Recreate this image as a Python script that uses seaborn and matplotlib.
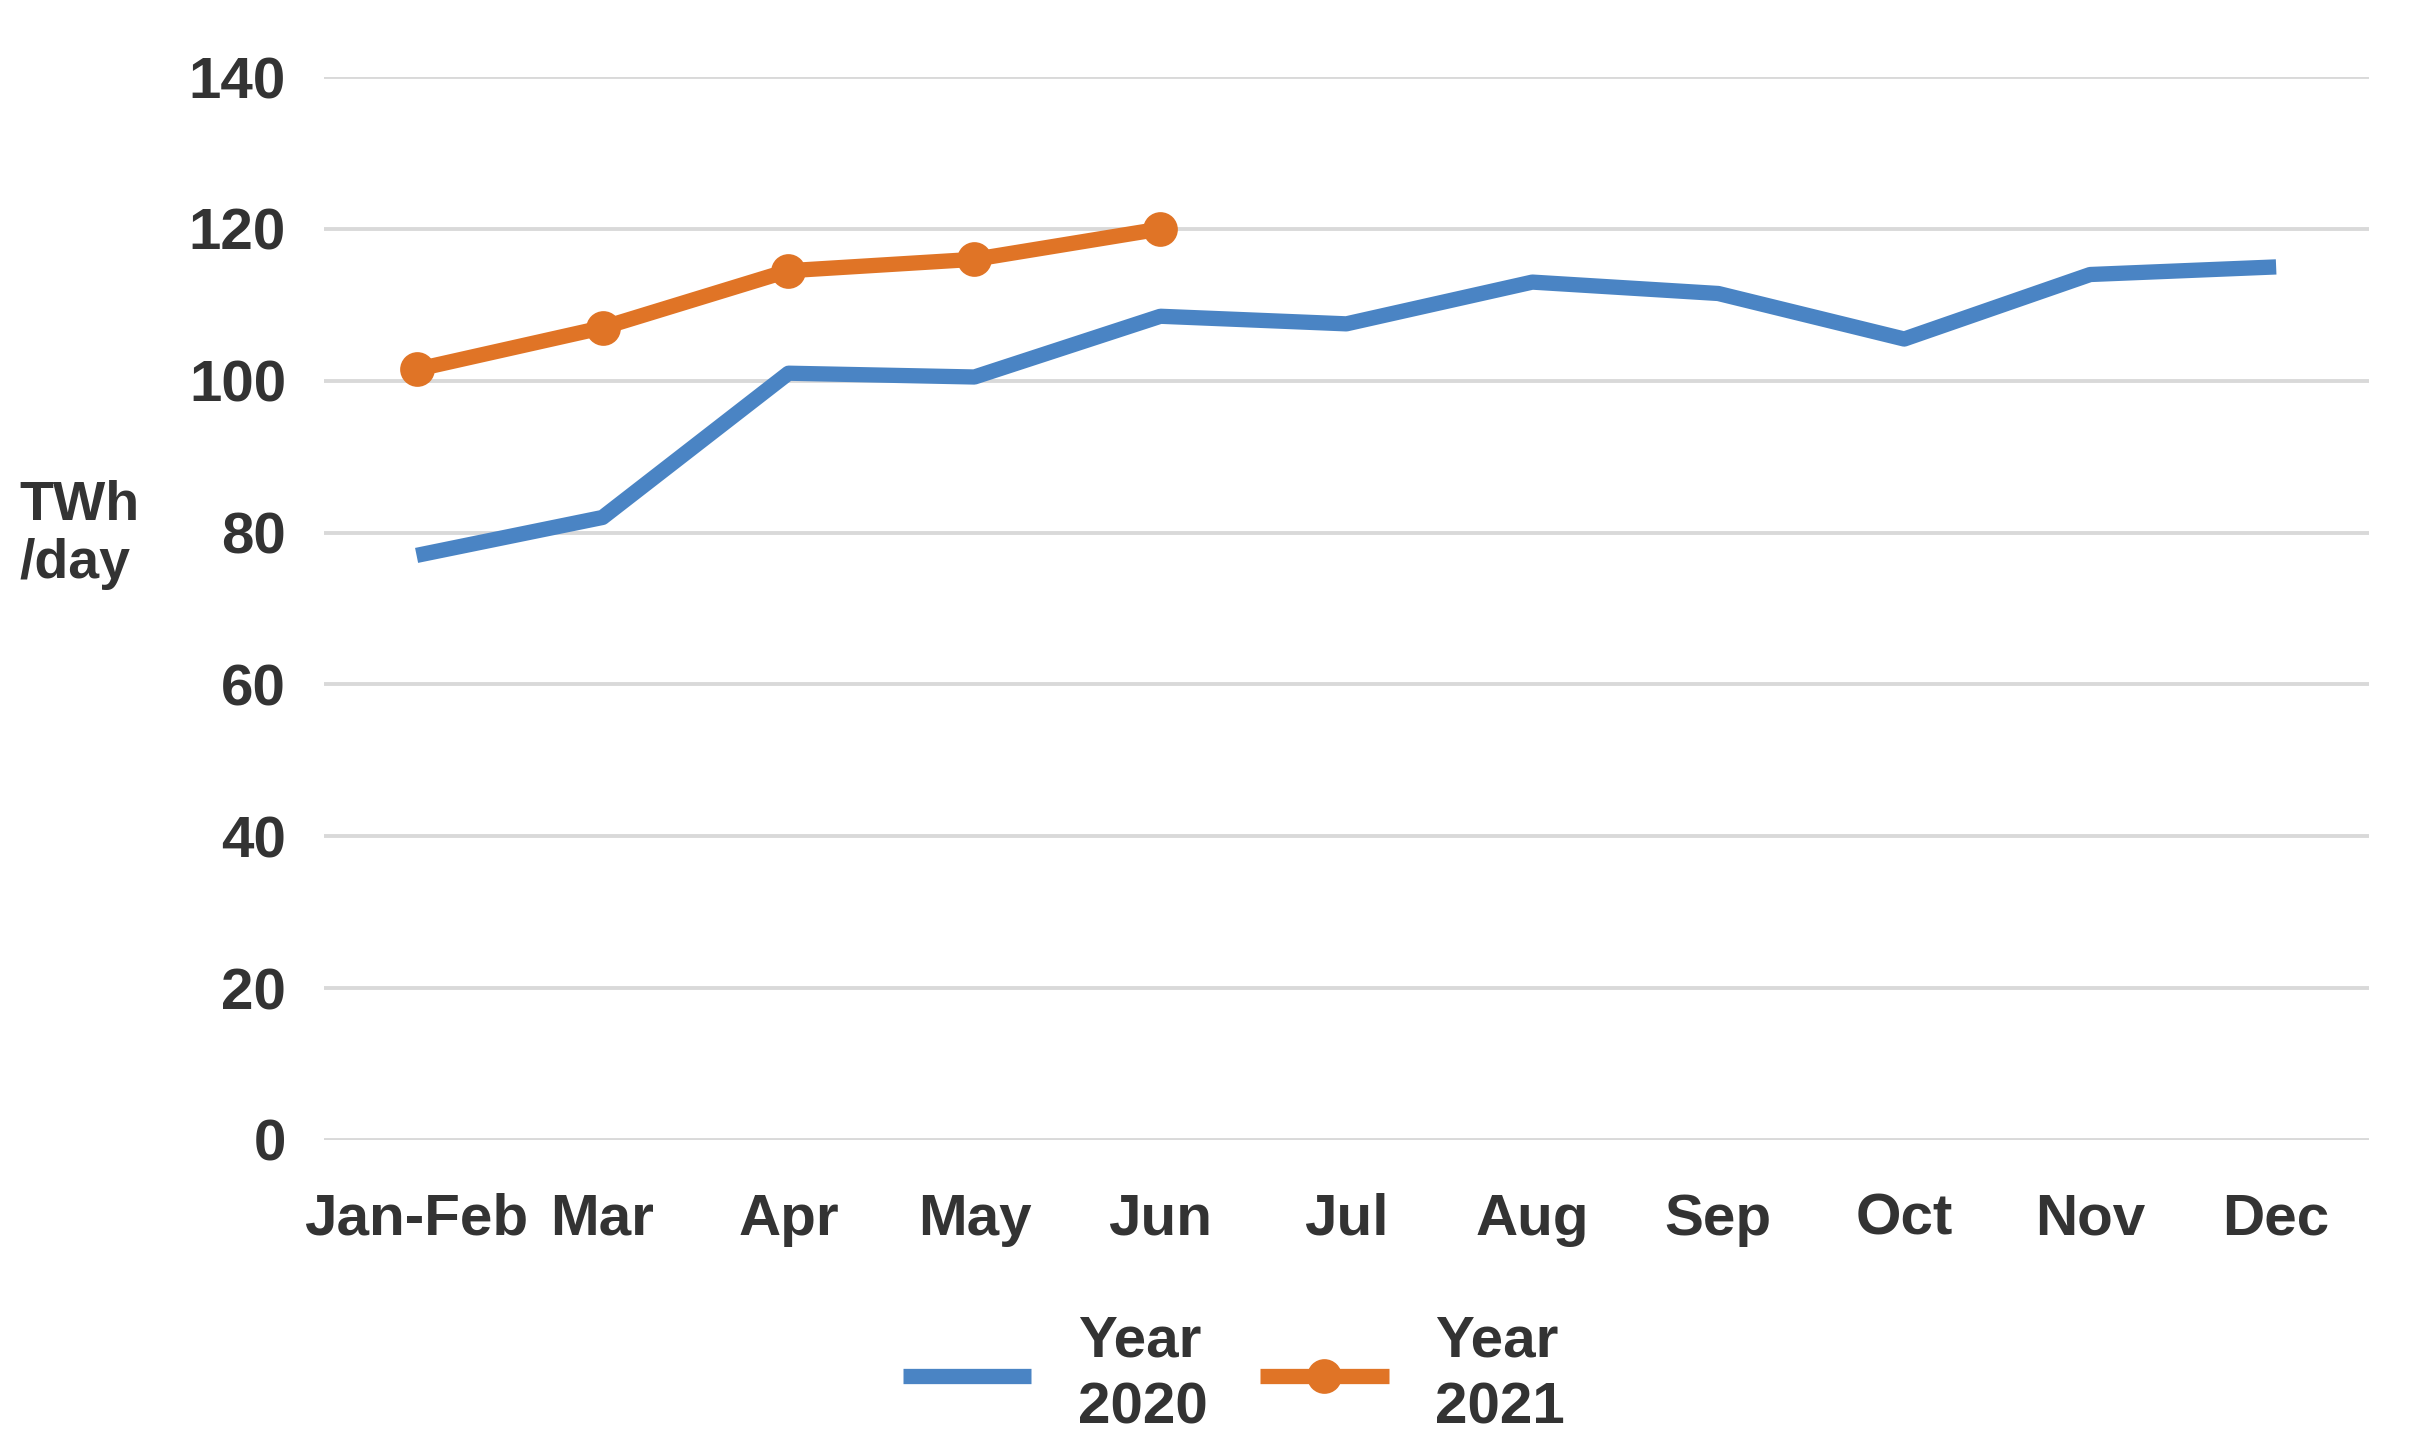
import numpy as np
import pandas as pd
import matplotlib
matplotlib.use('Agg')
import matplotlib.pyplot as plt
import seaborn as sns

# data
months = ['Jan-Feb', 'Mar', 'Apr', 'May', 'Jun', 'Jul', 'Aug', 'Sep', 'Oct', 'Nov', 'Dec']
y2020 = [77, 82, 101, 100.5, 108.5, 107.5, 113, 111.5, 105.5, 114, 115]
y2021 = [101.5, 107, 114.5, 116, 120]
yticks = [0, 20, 40, 60, 80, 100, 120, 140]

blue = '#4a84c4'
orange = '#e07426'
txt = '#333333'

df20 = pd.DataFrame({'Month': months, 'TWh': y2020})
df21 = pd.DataFrame({'Month': months[:len(y2021)], 'TWh': y2021})

sns.set_style('white')
plt.rcParams['font.family'] = ['Liberation Sans', 'DejaVu Sans']

fig = plt.figure(figsize=(24.15, 14.55), dpi=100)
ax = fig.add_axes([0.134, 0.2165, 0.847, 0.7305])

ax.yaxis.grid(True, color='#d9d9d9', linewidth=2.8)
ax.set_axisbelow(True)

sns.lineplot(data=df20, x='Month', y='TWh', color=blue, linewidth=11,
             label='Year\n2020', ax=ax, sort=False)
sns.lineplot(data=df21, x='Month', y='TWh', color=orange, linewidth=11,
             marker='o', markersize=25, markeredgewidth=0,
             label='Year\n2021', ax=ax, sort=False)

for l in ax.lines:
    l.set_clip_on(False)
    l.set_solid_capstyle('butt')

ax.set_xlim(-0.5, len(months) - 0.5)
ax.set_ylim(0, 140)
ax.set_yticks(yticks)
ax.set_xlabel('')
ax.set_ylabel('')
sns.despine(ax=ax, left=True, bottom=True)
ax.tick_params(axis='both', length=0, labelsize=42, labelcolor=txt)
ax.tick_params(axis='y', pad=27)
ax.tick_params(axis='x', pad=38)
for t in ax.get_xticklabels() + ax.get_yticklabels():
    t.set_fontweight('bold')

fig.text(0.008, 0.632, 'TWh\n/day', fontsize=40, fontweight='bold', color=txt,
         ha='left', va='center', linespacing=1.15)

ax.get_legend().remove()
h, lab = ax.get_legend_handles_labels()
leg = fig.legend(h, lab, loc='center', bbox_to_anchor=(0.511, 0.055), ncol=2,
                 frameon=False, handlelength=2.2, handletextpad=0.8,
                 columnspacing=0.9, prop={'size': 42, 'weight': 'bold'})
for t in leg.get_texts():
    t.set_color(txt)
    t.set_linespacing(1.3)

fig.savefig('out.png', dpi=100)
